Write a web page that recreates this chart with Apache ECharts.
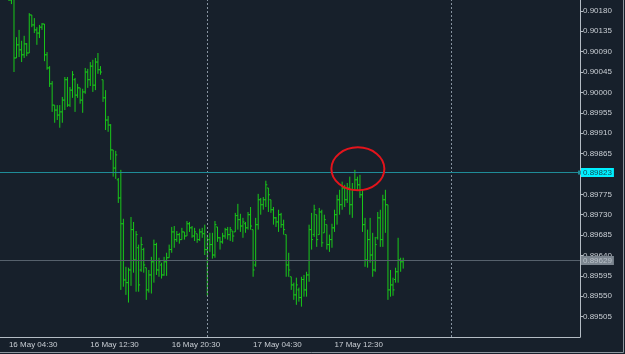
<!DOCTYPE html>
<html>
<head>
<meta charset="utf-8" />
<title>M15 bars</title>
<script src="https://cdn.jsdelivr.net/npm/echarts@6/dist/echarts.min.js"></script>
<style>
  html, body { margin: 0; padding: 0; background: #17202b; }
  #main { width: 625px; height: 354px; }
</style>
</head>
<body>
<div id="main"></div>
<script>
// 15 minute bars, first visible bar is 16 May 04:30
var firstBar = 3;          // category index of the first bar
var barCount = 228;        // categories across the whole window (incl. right shift)
var tickLabels = ['16 May 04:30', '16 May 12:30', '16 May 20:30', '17 May 04:30', '17 May 12:30'];
var separators = ['17 May 00:00', '18 May 00:00'];
var levelPrice = 0.89823;  // cyan horizontal line
var bidPrice = 0.89629;    // grey price line

var opens = [
  0.90215,0.90204,0.90211,0.90076,0.90105,0.90094,0.90083,0.90107,0.90087,0.90171,
  0.90149,0.90138,0.90131,0.90144,0.90151,0.90083,0.90054,0.90019,0.89972,0.89961,
  0.89950,0.89957,0.89983,0.90028,0.89972,0.90005,0.90028,0.89994,0.90010,0.89983,
  0.90001,0.90045,0.90028,0.90058,0.90016,0.90067,0.90050,0.90028,0.89988,0.89939,
  0.89928,0.89873,0.89833,0.89807,0.89767,0.89710,0.89586,0.89580,0.89608,0.89697,
  0.89630,0.89657,0.89608,0.89653,0.89613,0.89564,0.89597,0.89626,0.89664,0.89608,
  0.89619,0.89597,0.89626,0.89635,0.89653,0.89692,0.89675,0.89686,0.89675,0.89692,
  0.89683,0.89710,0.89701,0.89683,0.89688,0.89675,0.89692,0.89688,0.89653,0.89675,
  0.89664,0.89641,0.89703,0.89679,0.89670,0.89683,0.89697,0.89686,0.89694,0.89692,
  0.89728,0.89719,0.89705,0.89710,0.89701,0.89730,0.89697,0.89619,0.89708,0.89763,
  0.89752,0.89763,0.89789,0.89763,0.89741,0.89723,0.89714,0.89730,0.89708,0.89686,
  0.89619,0.89593,0.89575,0.89553,0.89564,0.89547,0.89587,0.89564,0.89597,0.89697,
  0.89686,0.89730,0.89686,0.89736,0.89690,0.89708,0.89664,0.89675,0.89701,0.89730,
  0.89763,0.89752,0.89789,0.89763,0.89789,0.89752,0.89785,0.89807,0.89796,0.89774,
  0.89708,0.89630,0.89675,0.89641,0.89608,0.89679,0.89723,0.89675,0.89763,0.89752,
  0.89564,0.89575,0.89587,0.89604,0.89630,0.89626
];
var highs = [
  0.90226,0.90222,0.90215,0.90122,0.90138,0.90114,0.90125,0.90109,0.90175,0.90171,
  0.90164,0.90144,0.90149,0.90153,0.90151,0.90089,0.90058,0.90025,0.89972,0.89972,
  0.89972,0.89990,0.90034,0.90034,0.90012,0.90047,0.90032,0.90019,0.90010,0.90008,
  0.90054,0.90052,0.90067,0.90072,0.90076,0.90087,0.90058,0.90028,0.90005,0.89948,
  0.89930,0.89873,0.89871,0.89811,0.89829,0.89721,0.89615,0.89613,0.89725,0.89714,
  0.89694,0.89664,0.89681,0.89657,0.89613,0.89608,0.89637,0.89675,0.89668,0.89635,
  0.89624,0.89637,0.89646,0.89664,0.89703,0.89705,0.89694,0.89690,0.89701,0.89692,
  0.89716,0.89714,0.89705,0.89701,0.89688,0.89699,0.89701,0.89708,0.89686,0.89690,
  0.89690,0.89716,0.89703,0.89681,0.89690,0.89701,0.89703,0.89703,0.89694,0.89734,
  0.89754,0.89732,0.89723,0.89714,0.89736,0.89747,0.89697,0.89723,0.89776,0.89767,
  0.89769,0.89805,0.89789,0.89763,0.89747,0.89725,0.89741,0.89734,0.89719,0.89686,
  0.89646,0.89593,0.89580,0.89591,0.89569,0.89593,0.89597,0.89604,0.89708,0.89734,
  0.89752,0.89730,0.89745,0.89741,0.89730,0.89708,0.89686,0.89710,0.89741,0.89774,
  0.89785,0.89803,0.89796,0.89800,0.89814,0.89800,0.89829,0.89814,0.89818,0.89785,
  0.89723,0.89697,0.89723,0.89690,0.89681,0.89736,0.89741,0.89774,0.89785,0.89752,
  0.89608,0.89591,0.89613,0.89679,0.89635,0.89635
];
var lows = [
  0.90202,0.90195,0.90045,0.90076,0.90078,0.90067,0.90076,0.90080,0.90087,0.90144,
  0.90131,0.90105,0.90120,0.90138,0.90069,0.90050,0.90012,0.89957,0.89933,0.89939,
  0.89922,0.89933,0.89961,0.89968,0.89968,0.89988,0.89957,0.89988,0.89975,0.89955,
  0.89997,0.90010,0.90014,0.90001,0.90005,0.90041,0.90039,0.89979,0.89917,0.89913,
  0.89851,0.89814,0.89809,0.89756,0.89564,0.89571,0.89553,0.89536,0.89573,0.89602,
  0.89560,0.89560,0.89604,0.89602,0.89542,0.89558,0.89556,0.89580,0.89597,0.89593,
  0.89589,0.89595,0.89595,0.89635,0.89646,0.89657,0.89670,0.89666,0.89675,0.89675,
  0.89683,0.89692,0.89679,0.89672,0.89668,0.89672,0.89679,0.89641,0.89551,0.89648,
  0.89633,0.89635,0.89670,0.89653,0.89666,0.89677,0.89675,0.89672,0.89670,0.89692,
  0.89697,0.89692,0.89679,0.89690,0.89697,0.89697,0.89593,0.89615,0.89697,0.89730,
  0.89741,0.89747,0.89736,0.89734,0.89708,0.89703,0.89692,0.89701,0.89686,0.89593,
  0.89593,0.89564,0.89542,0.89531,0.89538,0.89527,0.89549,0.89549,0.89582,0.89653,
  0.89681,0.89659,0.89686,0.89659,0.89690,0.89653,0.89648,0.89657,0.89692,0.89708,
  0.89730,0.89741,0.89747,0.89756,0.89730,0.89723,0.89785,0.89785,0.89767,0.89692,
  0.89615,0.89613,0.89624,0.89593,0.89604,0.89675,0.89659,0.89659,0.89690,0.89542,
  0.89549,0.89551,0.89580,0.89580,0.89604,0.89611
];
var closes = [
  0.90204,0.90208,0.90076,0.90105,0.90094,0.90083,0.90107,0.90087,0.90171,0.90149,
  0.90138,0.90131,0.90144,0.90151,0.90083,0.90054,0.90019,0.89972,0.89961,0.89950,
  0.89957,0.89983,0.90028,0.89972,0.90005,0.90039,0.89994,0.90010,0.89983,0.90001,
  0.90045,0.90028,0.90058,0.90016,0.90067,0.90050,0.90045,0.89988,0.89939,0.89928,
  0.89873,0.89833,0.89862,0.89767,0.89710,0.89586,0.89580,0.89608,0.89697,0.89630,
  0.89686,0.89575,0.89664,0.89619,0.89564,0.89597,0.89626,0.89664,0.89608,0.89626,
  0.89597,0.89626,0.89635,0.89653,0.89692,0.89675,0.89686,0.89675,0.89692,0.89683,
  0.89710,0.89701,0.89683,0.89692,0.89675,0.89692,0.89688,0.89653,0.89675,0.89664,
  0.89641,0.89708,0.89679,0.89670,0.89683,0.89697,0.89686,0.89697,0.89683,0.89728,
  0.89719,0.89705,0.89714,0.89701,0.89730,0.89705,0.89608,0.89708,0.89763,0.89752,
  0.89763,0.89796,0.89774,0.89741,0.89723,0.89714,0.89730,0.89708,0.89697,0.89619,
  0.89608,0.89575,0.89553,0.89575,0.89547,0.89587,0.89564,0.89597,0.89697,0.89675,
  0.89741,0.89675,0.89736,0.89668,0.89719,0.89664,0.89675,0.89701,0.89730,0.89763,
  0.89752,0.89789,0.89763,0.89789,0.89752,0.89785,0.89807,0.89796,0.89774,0.89708,
  0.89630,0.89675,0.89641,0.89608,0.89664,0.89723,0.89675,0.89763,0.89752,0.89564,
  0.89575,0.89564,0.89604,0.89630,0.89626,0.89629
];

var barColor = '#19c819';
var axisColor = '#b4bcc4';
var textColor = '#c9ced4';
var font = 'Liberation Sans';

function pad(n) { return n < 10 ? '0' + n : '' + n; }

// category names, one per 15 minutes starting 16 May 03:45
var cats = [];
for (var k = 0; k < barCount; k++) {
  var m = 3 * 60 + 45 + k * 15;
  var d = 16 + Math.floor(m / 1440);
  m = m % 1440;
  cats.push(d + ' May ' + pad(Math.floor(m / 60)) + ':' + pad(m % 60));
}

var bars = [];
for (var i = 0; i < opens.length; i++) {
  bars.push([firstBar + i, opens[i], highs[i], lows[i], closes[i]]);
}

function showTick(idx, val) { return tickLabels.indexOf(val) >= 0; }

// one OHLC bar: vertical high-low line, open tick left, close tick right
function renderBar(params, api) {
  var k = api.value(0);
  var cs = params.coordSys;
  var top = api.coord([k, api.value(2)]);
  var bot = api.coord([k, api.value(3)]);
  var op = api.coord([k, api.value(1)]);
  var cl = api.coord([k, api.value(4)]);
  var y1 = Math.max(top[1], cs.y);
  var st = { stroke: barColor, lineWidth: 1 };
  var kids = [
    { type: 'line', shape: { x1: top[0], y1: y1, x2: bot[0], y2: bot[1] }, style: st }
  ];
  if (op[1] >= cs.y) kids.push({ type: 'line', shape: { x1: op[0] - 1.5, y1: op[1], x2: op[0], y2: op[1] }, style: st });
  if (cl[1] >= cs.y) kids.push({ type: 'line', shape: { x1: cl[0], y1: cl[1], x2: cl[0] + 1.5, y2: cl[1] }, style: st });
  return { type: 'group', children: kids };
}

// a price line that carries its value as a box on the price scale
function priceLine(price, lineColor, boxColor, boxText, endSymbol) {
  return {
    type: 'line', silent: true, symbol: 'none',
    lineStyle: { opacity: 0 },
    data: [[firstBar, price]],
    markLine: {
      silent: true, precision: 5,
      symbol: ['none', endSymbol], symbolSize: 4,
      lineStyle: { color: lineColor, type: 'solid', width: 1 },
      label: {
        position: 'end', distance: 1, color: boxText, backgroundColor: boxColor,
        padding: [1, 2, 0, 2], fontSize: 8, fontFamily: font,
        formatter: function () { return price.toFixed(5); }
      },
      data: [{ yAxis: price }]
    }
  };
}

var chart = echarts.init(document.getElementById('main'));
var option = {
  backgroundColor: '#17202b',
  animation: false,
  grid: { left: 0, top: 0, right: 45, bottom: 17 },
  xAxis: {
    type: 'category',
    data: cats,
    boundaryGap: true,
    axisLine: { lineStyle: { color: axisColor } },
    axisTick: { alignWithLabel: true, length: 3, interval: showTick, lineStyle: { color: axisColor } },
    axisLabel: { interval: showTick, align: 'left', margin: 4, color: textColor, fontSize: 8, fontFamily: font },
    splitLine: { show: false }
  },
  yAxis: {
    type: 'value',
    position: 'right',
    min: 0.8946,
    max: 0.90204,
    interval: 0.00045,
    splitLine: { show: false },
    axisLine: { show: true, lineStyle: { color: axisColor } },
    axisTick: { show: true, length: 3, lineStyle: { color: axisColor } },
    axisLabel: {
      margin: 3, color: textColor, fontSize: 8, fontFamily: font,
      showMinLabel: false, showMaxLabel: false,
      formatter: function (v) { return v.toFixed(5); }
    }
  },
  series: [
    {
      type: 'custom',
      renderItem: renderBar,
      clip: true,
      silent: true,
      encode: { x: 0, y: [1, 2, 3, 4] },
      data: bars,
      markLine: {
        silent: true, symbol: ['none', 'none'],
        label: { show: false },
        lineStyle: { color: '#8793a0', type: [2, 2], width: 1 },
        data: separators.map(function (s) { return { xAxis: s }; })
      }
    },
    priceLine(levelPrice, '#1f8c98', '#00f0ff', '#0f4a56', 'rect'),
    priceLine(bidPrice, '#56616c', '#7b858f', '#b9c1c8', 'none')
  ]
};
chart.setOption(option);

// red hand-drawn mark around the highest bar of 17 May
var peak = 100;
for (var j = 100; j < highs.length; j++) if (highs[j] > highs[peak]) peak = j;
var pc = chart.convertToPixel({ gridIndex: 0 }, [firstBar + peak, highs[peak]]);
chart.setOption({
  graphic: [
    {
      type: 'ellipse', silent: true, z: 100,
      shape: { cx: pc[0] + 3, cy: pc[1] - 1, rx: 26.5, ry: 21.5 },
      style: { fill: 'none', stroke: '#e3141c', lineWidth: 2 }
    },
    {
      type: 'polyline', silent: true, z: 100,
      shape: { points: [[623.5, 0], [623.5, 352.5], [0, 352.5]] },
      style: { fill: 'none', stroke: '#8d969f', lineWidth: 1 }
    }
  ]
});
</script>
</body>
</html>
